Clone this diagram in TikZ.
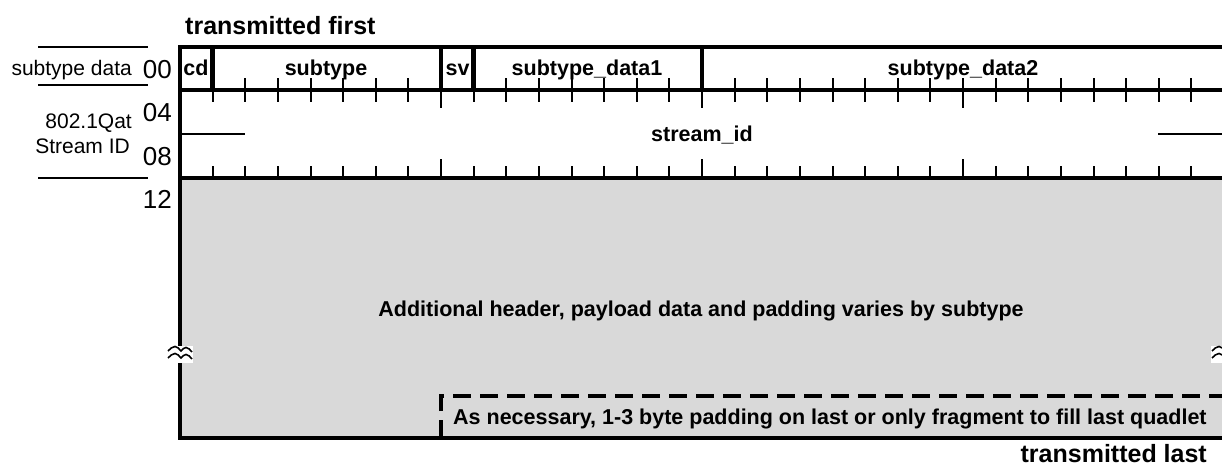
\documentclass[tikz,border=0pt]{standalone}
\usepackage{fontspec}
\setmainfont{Liberation Sans}
\definecolor{payloadgray}{RGB}{217,217,217}
\tikzset{
  field/.style={font=\bfseries\fontsize{21.5}{24}\selectfont, inner sep=0pt},
  rowlabel/.style={font=\fontsize{21}{24}\selectfont, inner sep=0pt, anchor=base east},
  offset/.style={font=\fontsize{26}{28}\selectfont, inner sep=0pt, anchor=base east},
  order/.style={font=\bfseries\fontsize{25}{28}\selectfont, inner sep=0pt},
  frame/.style={line width=4.3pt},
  tick/.style={line width=2pt},
  thinrule/.style={line width=1.5pt},
  pad/.style={line width=4pt, dash pattern=on 18pt off 9pt},
  wave/.style={line width=1.6pt}
}
\begin{document}
\begin{tikzpicture}[x=1pt, y=-1pt]
\useasboundingbox (0,0) rectangle (1222,466);
\clip (0,0) rectangle (1222,466);

% bit grid: 32 bits between x=180 and x=1224
\def\bw{32.625}

% payload area
\fill[payloadgray] (180,178) rectangle (1224,438);

% tick marks along the row boundaries
\foreach \b in {1,...,31}{
  \pgfmathsetmacro{\bx}{180+\bw*\b}
  \pgfmathtruncatemacro{\isbyte}{mod(\b,8)==0 ? 1 : 0}
  \ifnum\isbyte=1
    \draw[tick] (\bx,90) -- (\bx,108);
    \draw[tick] (\bx,178) -- (\bx,159);
  \else
    \draw[tick] (\bx,90) -- (\bx,102);
    \draw[tick] (\bx,178) -- (\bx,166);
  \fi
}
\foreach \b in {2,...,7,10,11,...,15,17,18,...,31}{
  \draw[tick] ({180+\bw*\b},90) -- ({180+\bw*\b},78);
}

% stream_id spans two quadlets
\draw[thinrule] (182,134) -- (245,134);
\draw[thinrule] (1158,134) -- (1224,134);

% optional padding region
\draw[pad] (441,438) -- (441,396) -- (1224,396);

% frame
\draw[frame] (180,47) rectangle (1224,438);
\draw[frame] (180,90) -- (1224,90);
\draw[frame] (180,178) -- (1224,178);
\foreach \b in {1,8,9,16}{
  \draw[frame] ({180+\bw*\b},47) -- ({180+\bw*\b},90);
}

% break marks on the side borders
\foreach \cx in {180,1224}{
  \fill[white] (\cx-13,346) rectangle (\cx+13,363);
  \draw[wave] (\cx-12,351) sin (\cx-5,346.5) cos (\cx+1,351) sin (\cx+6,347.5) cos (\cx+12,352);
  \draw[wave] (\cx-12,358) sin (\cx-5,353.5) cos (\cx+1,358) sin (\cx+6,354.5) cos (\cx+12,359);
}

% left-hand rules and labels
\draw[thinrule] (38,47) -- (148,47);
\draw[thinrule] (38,85) -- (148,85);
\draw[thinrule] (38,178) -- (148,178);
\node[rowlabel] (lsub) at (132,75) {subtype data};
\node[rowlabel] (lqat) at (132,128) {802.1Qat};
\node[rowlabel] (lsid) at (130,153) {Stream ID};
\node[offset] (n00) at (172,78) {00};
\node[offset] (n04) at (172,121) {04};
\node[offset] (n08) at (172,165) {08};
\node[offset] (n12) at (172,208) {12};

% field names
\node[field, anchor=base] (fcd) at (196,75) {cd};
\node[field, anchor=base] (fsubtype) at (326,75) {subtype};
\node[field, anchor=base] (fsv) at (457.5,75) {sv};
\node[field, anchor=base] (fsd1) at (587,75) {subtype\_data1};
\node[field, anchor=base] (fsd2) at (963,75) {subtype\_data2};
\node[field, anchor=base] (fsid) at (702,141.5) {stream\_id};
\node[field, anchor=base] (fpay) at (701,316.5) {Additional header, payload data and padding varies by subtype};
\node[field, anchor=base west] (fpad) at (453,424) {As necessary, 1-3 byte padding on last or only fragment to fill last quadlet};

% transmission order
\node[order, anchor=base west] (tfirst) at (185,34.5) {transmitted first};
\node[order, anchor=base east] (tlast) at (1207,462) {transmitted last};
\end{tikzpicture}
\end{document}
